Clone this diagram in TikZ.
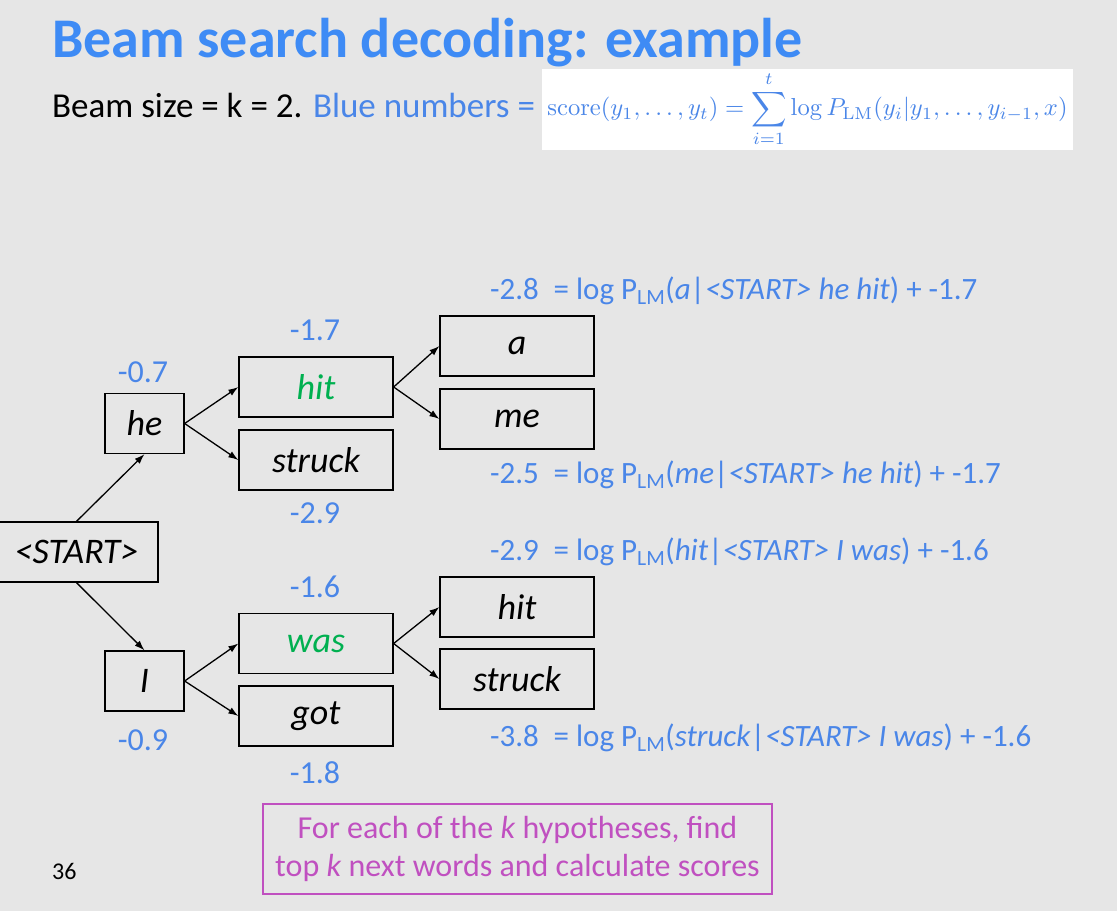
\documentclass[tikz,border=0pt]{standalone}
\usepackage[no-math]{fontspec}
\setmainfont{Carlito}
\usepackage{amsmath}
\usetikzlibrary{arrows.meta}
\definecolor{bg}{RGB}{230,230,230}
\definecolor{titleblue}{RGB}{62,139,245}
\definecolor{numblue}{RGB}{74,134,232}
\definecolor{wordgreen}{RGB}{0,176,80}
\definecolor{hintpink}{RGB}{192,80,192}
\begin{document}
\begin{tikzpicture}[x=1pt,y=-1pt,
  wordbox/.style={draw=black, line width=1.3pt, inner sep=0pt,
    minimum height=60pt, font=\itshape\fontsize{36}{42}\selectfont},
  shortbox/.style={wordbox, minimum width=79pt},
  longbox/.style={wordbox, minimum width=154pt},
  score/.style={text=numblue, inner sep=0pt, font=\fontsize{32}{38}\selectfont},
  calc/.style={text=numblue, inner sep=0pt, anchor=base west, font=\fontsize{31}{37}\selectfont},
  link/.style={-{Latex[length=10pt,width=7pt]}, line width=1.3pt}]
  % page and background
  \fill[bg] (0,0) rectangle (1117,911);
  \useasboundingbox (0,0) rectangle (1117,911);

  % heading
  \node[anchor=base west, inner sep=0pt, text=titleblue,
        font=\bfseries\fontsize{56}{64}\selectfont] (title) at (52,57)
        {Beam search decoding: example};
  \node[anchor=base west, inner sep=0pt, font=\fontsize{35}{42}\selectfont] (sub) at (52,117)
        {Beam size = k = 2. {\color{numblue}Blue numbers = }};
  \node[fill=white, minimum width=531pt, minimum height=81pt, inner sep=0pt] (formula) at (807.5,109.5)
        {\color{numblue}\resizebox{520pt}{!}{$\displaystyle \mathrm{score}(y_1,\ldots,y_t)=\sum_{i=1}^{t}\log P_{\mathrm{LM}}(y_i|y_1,\ldots,y_{i-1},x)$}};

  % search tree
  \node[wordbox, minimum width=163pt] (start) at (76.5,552) {<START>};
  \node[shortbox] (he) at (144.5,423.5) {he};
  \node[shortbox] (I) at (144.5,681) {I};
  \node[longbox, text=wordgreen] (hit) at (316,387) {hit};
  \node[longbox] (struck) at (316,460) {struck};
  \node[longbox, text=wordgreen] (was) at (316,643.5) {was};
  \node[longbox] (got) at (316,716) {got};
  \node[longbox] (a) at (517,346) {a};
  \node[longbox] (me) at (517,419) {me};
  \node[longbox] (hit2) at (517,607) {hit};
  \node[longbox] (struck2) at (517,679) {struck};

  \draw[link] (start.north) -- (he.south);
  \draw[link] (start.south) -- (I.north);
  \draw[link] (he.east) -- (hit.west);
  \draw[link] (he.east) -- (struck.west);
  \draw[link] (I.east) -- (was.west);
  \draw[link] (I.east) -- (got.west);
  \draw[link] (hit.east) -- (a.west);
  \draw[link] (hit.east) -- (me.west);
  \draw[link] (was.east) -- (hit2.west);
  \draw[link] (was.east) -- (struck2.west);

  % running scores
  \node[score] (she) at (143,372) {-0.7};
  \node[score] (shit) at (315,330) {-1.7};
  \node[score] (sstruck) at (315,513) {-2.9};
  \node[score] (swas) at (315,587) {-1.6};
  \node[score] (sI) at (143,740) {-0.9};
  \node[score] (sgot) at (315,773) {-1.8};

  % score calculations
  \node[calc] (ca) at (490,299) {-2.8\hspace{0.25em} = log P\textsubscript{LM}(\textit{a}|\textit{<START> he hit}) + -1.7};
  \node[calc] (cme) at (490,483) {-2.5\hspace{0.25em} = log P\textsubscript{LM}(\textit{me}|\textit{<START> he hit}) + -1.7};
  \node[calc] (chit) at (490,560) {-2.9\hspace{0.25em} = log P\textsubscript{LM}(\textit{hit}|\textit{<START> I was}) + -1.6};
  \node[calc] (cstruck) at (490,746) {-3.8\hspace{0.25em} = log P\textsubscript{LM}(\textit{struck}|\textit{<START> I was}) + -1.6};

  % note
  \node[draw=hintpink, line width=2pt, text=hintpink, minimum width=509pt, minimum height=90pt,
        inner sep=0pt, align=center, font=\fontsize{32}{38}\selectfont] (note) at (517.5,849)
        {For each of the \textit{k} hypotheses, find\\top \textit{k} next words and calculate scores};

  % slide number
  \node[anchor=base west, inner sep=0pt, font=\fontsize{24}{28}\selectfont] (num) at (52,879) {36};
\end{tikzpicture}
\end{document}
